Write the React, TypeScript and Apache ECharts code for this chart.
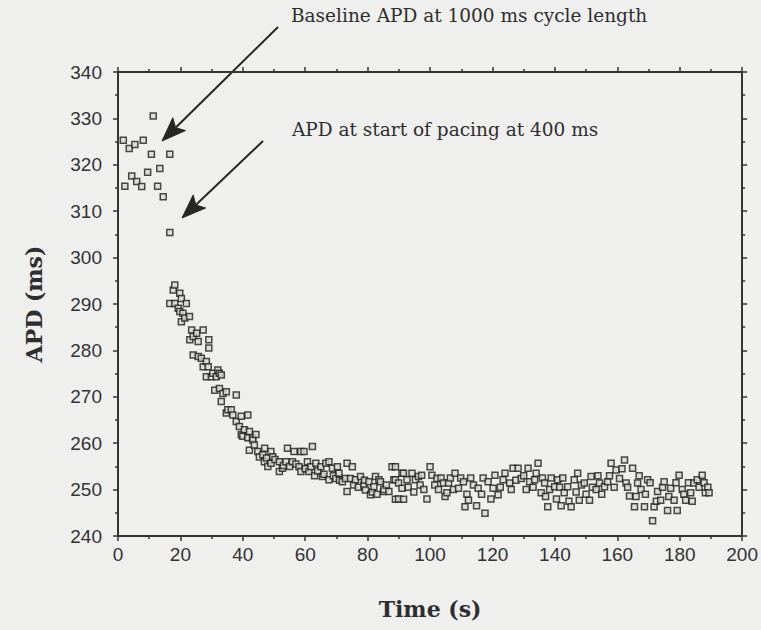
import React, { useEffect, useRef } from "react";
import * as echarts from "echarts";

// Axis ranges / tick steps
const X_MIN = 0, X_MAX = 200, X_STEP = 20;
const Y_MIN = 240, Y_MAX = 340, Y_STEP = 10;

const xAxisName = "Time (s)";
const yAxisName = "APD (ms)";
const note1 = "Baseline APD at 1000 ms cycle length";
const note2 = "APD at start of pacing at 400 ms";

// Baseline beats at 1000 ms cycle length: [time s, APD ms]
const baselinePoints: number[][] = [
  [1.7, 325.3], [2.2, 315.4], [3.6, 323.5], [4.4, 317.6], [5.4, 324.4], [6.0, 316.4],
  [7.6, 315.3], [8.1, 325.3], [9.5, 318.4], [10.7, 322.3], [11.3, 330.5], [12.7, 315.4],
  [13.4, 319.2], [14.5, 313.1], [16.6, 322.3], [16.6, 305.4],
];

// Pacing at 400 ms: early decay
const decayPoints: number[][] = [
  [16.6, 290.1], [17.7, 293.0], [18.2, 294.1], [18.2, 290.1], [19.3, 289.1], [19.8, 292.3],
  [19.8, 288.4], [20.3, 291.2], [20.3, 286.2], [20.8, 288.0], [21.4, 287.0], [21.9, 290.1],
  [22.9, 287.3], [23.0, 282.3], [23.6, 284.4], [24.1, 283.0], [24.1, 279.0], [25.2, 283.7],
  [25.7, 281.9], [25.7, 278.7], [26.7, 278.3], [27.3, 284.4], [27.3, 276.5], [28.3, 277.6],
  [28.3, 274.3], [28.9, 276.5], [29.1, 282.3], [29.1, 280.5], [29.9, 274.3], [30.4, 275.1],
  [31.0, 271.4], [31.5, 274.3], [32.0, 275.8], [32.5, 275.1], [32.5, 271.8], [33.1, 274.7],
  [33.1, 269.0], [33.6, 270.7], [34.7, 271.1], [34.7, 266.5], [35.2, 267.2], [36.3, 267.2],
  [36.8, 266.1], [37.9, 270.4], [37.9, 264.7], [38.9, 263.6], [39.5, 265.8], [39.5, 261.8],
  [40.0, 261.5], [40.5, 262.9], [41.6, 266.1], [41.6, 261.2], [42.1, 262.5], [42.1, 258.5],
  [43.1, 261.2], [43.2, 260.7], [43.7, 259.6], [44.2, 261.9], [44.8, 258.2], [45.3, 257.0],
  [46.4, 257.5], [46.9, 256.0], [47.0, 258.9], [47.6, 256.8], [48.0, 255.0], [49.0, 258.2],
  [49.0, 255.7], [49.6, 257.1], [50.3, 256.5], [51.7, 256.0], [51.7, 253.9], [52.7, 254.6],
  [53.0, 255.2], [53.8, 256.0], [54.3, 258.9], [55.0, 255.0], [55.9, 256.0], [56.4, 258.2],
  [57.0, 255.5], [58.0, 254.9], [58.6, 258.2], [58.6, 253.9], [59.6, 258.2], [60.0, 254.5],
  [60.7, 256.0], [61.2, 253.9], [61.8, 254.9], [62.3, 259.3], [63.0, 253.0], [63.4, 255.7],
  [64.0, 254.0], [65.0, 254.9], [65.5, 252.8], [66.0, 253.3], [66.6, 255.7], [67.6, 256.0],
  [67.6, 252.1], [68.7, 254.6], [69.0, 253.0], [69.8, 252.4], [70.3, 254.9], [70.8, 253.5],
  [71.0, 252.0], [71.9, 251.7], [72.9, 252.4], [73.4, 255.7], [73.4, 249.6], [74.5, 252.4],
  [75.1, 254.9], [75.5, 251.0], [76.1, 252.1], [77.0, 250.5], [77.7, 252.8], [78.8, 251.0],
  [79.0, 252.0], [79.3, 249.9], [80.4, 251.7], [80.9, 248.9], [81.5, 249.5], [82.0, 250.6],
  [82.5, 252.8], [83.0, 249.0], [83.6, 252.1], [84.1, 251.7], [85.1, 249.6], [85.2, 250.0],
  [86.0, 251.0], [86.8, 249.6],
];

// Pacing at 400 ms: steady state
const plateauPoints: number[][] = [
  [87.8, 254.9], [88.4, 252.1], [88.9, 254.9], [88.9, 247.9], [88.9, 252.1], [89.9, 251.4],
  [89.9, 248.0], [91.0, 250.3], [91.0, 253.5], [91.5, 253.5], [91.5, 247.9], [92.6, 252.1],
  [93.0, 250.5], [94.2, 253.5], [94.8, 249.5], [95.3, 252.1], [96.3, 252.8], [96.8, 251.0],
  [97.3, 253.1], [98.0, 250.0], [99.0, 248.0], [100.0, 254.9], [100.6, 253.1], [101.5, 251.0],
  [102.2, 252.4], [102.7, 250.0], [103.5, 252.5], [104.3, 251.4], [104.8, 248.5], [105.4, 249.3],
  [105.9, 251.4], [106.5, 252.5], [107.5, 250.0], [108.0, 253.5], [109.1, 250.3], [109.8, 252.5],
  [110.7, 251.7], [111.2, 246.3], [111.8, 249.0], [112.3, 247.7], [113.0, 252.5], [113.9, 251.0],
  [114.9, 246.5], [115.4, 250.3], [116.5, 249.0], [117.0, 252.5], [117.6, 244.9], [118.6, 251.7],
  [119.5, 248.0], [120.2, 250.3], [120.8, 253.1], [121.8, 248.9], [122.5, 250.5], [123.4, 252.1],
  [124.0, 253.5], [125.5, 251.4], [126.0, 250.0], [126.6, 254.6], [127.5, 252.0], [128.2, 254.6],
  [129.2, 252.4], [130.0, 253.0], [130.8, 250.0], [131.4, 254.6], [131.9, 251.7], [133.0, 250.5],
  [133.5, 252.1], [134.0, 253.5], [134.6, 255.7], [135.6, 249.3], [136.0, 252.5], [136.7, 251.4],
  [137.0, 248.5], [137.7, 246.3], [138.3, 250.0], [138.8, 252.5], [139.9, 250.6], [140.5, 248.0],
  [140.9, 252.1], [141.5, 250.5], [142.0, 246.5], [142.5, 252.5], [143.0, 249.3], [144.1, 250.6],
  [144.5, 247.5], [145.2, 246.3], [146.2, 252.1], [146.8, 249.5], [147.3, 253.5], [147.8, 247.7],
  [148.5, 251.0], [149.4, 251.4], [150.0, 249.0], [151.1, 247.7], [151.6, 252.8], [152.0, 250.5],
  [153.2, 250.0], [153.8, 253.0], [154.3, 251.4], [155.0, 249.0], [155.9, 250.6], [156.9, 251.7],
  [157.5, 253.0], [158.0, 255.7], [159.0, 250.5], [159.6, 254.2], [160.7, 252.4], [161.5, 254.5],
  [162.3, 256.4], [162.8, 251.4], [163.3, 250.5], [163.9, 248.6], [164.9, 254.6], [165.5, 246.3],
  [166.0, 248.5], [166.5, 251.4], [167.0, 253.0], [167.6, 250.0], [168.7, 246.3], [169.0, 249.0],
  [169.7, 252.1], [170.5, 251.5], [171.3, 243.3], [171.8, 246.3], [172.5, 247.5], [172.9, 249.6],
  [173.9, 247.7], [174.5, 250.5], [175.0, 251.7], [176.1, 245.5], [176.5, 248.5], [177.1, 250.3],
  [178.2, 247.7], [178.8, 251.5], [179.2, 245.5], [179.8, 253.1], [180.8, 250.0], [181.3, 249.0],
  [181.9, 247.7], [182.8, 251.5], [183.5, 249.3], [184.0, 247.5], [184.5, 251.4], [185.6, 252.1],
  [186.2, 250.5], [187.2, 253.1], [187.8, 251.5], [188.2, 249.3], [189.0, 250.5], [189.4, 249.3],
];

const INK = "#262626";
const BG = "#efefed";

function arrow(tail: number[], tip: number[]) {
  const dx = tip[0] - tail[0];
  const dy = tip[1] - tail[1];
  const len = Math.hypot(dx, dy);
  const ux = dx / len, uy = dy / len;
  const nx = -uy, ny = ux;
  const headLen = 24, halfW = 9;
  const bx = tip[0] - ux * headLen, by = tip[1] - uy * headLen;
  const notchX = tip[0] - ux * (headLen - 5), notchY = tip[1] - uy * (headLen - 5);
  return [
    {
      type: "line",
      shape: { x1: tail[0], y1: tail[1], x2: notchX, y2: notchY },
      style: { stroke: INK, lineWidth: 2 },
      silent: true,
    },
    {
      type: "polygon",
      shape: {
        points: [
          [tip[0], tip[1]],
          [bx + nx * halfW, by + ny * halfW],
          [notchX, notchY],
          [bx - nx * halfW, by - ny * halfW],
        ],
      },
      style: { fill: INK, stroke: INK, lineWidth: 1 },
      silent: true,
    },
  ];
}

const symbolStyle = {
  color: "#dadad8",
  borderColor: "#1e1e1e",
  borderWidth: 1.5,
};

export default function App() {
  const ref = useRef<HTMLDivElement>(null);

  useEffect(() => {
    if (!ref.current) return;
    const chart = echarts.init(ref.current, undefined, { renderer: "svg" });

    const axisLine = { show: true, onZero: false, lineStyle: { color: "#353535", width: 2 } };
    const axisTick = { show: true, inside: false, length: 5, lineStyle: { color: "#353535", width: 1.5 } };
    const minorTick = { show: true, splitNumber: 2, length: 3, lineStyle: { color: "#353535", width: 1.5 } };
    const labelStyle = {
      fontFamily: "Liberation Sans, Arial, sans-serif",
      fontSize: 19,
      color: "#333333",
    };
    const nameStyle = {
      fontFamily: "DejaVu Serif, serif",
      fontWeight: "bold" as const,
      fontSize: 22,
      color: "#2e2e2e",
    };

    chart.setOption({
      animation: false,
      backgroundColor: BG,
      grid: { left: 118, right: 16, top: 72, bottom: 94, containLabel: false },
      xAxis: [
        {
          type: "value",
          position: "bottom",
          min: X_MIN,
          max: X_MAX,
          interval: X_STEP,
          axisLine,
          axisTick,
          minorTick,
          splitLine: { show: false },
          axisLabel: { ...labelStyle, margin: 9 },
          name: xAxisName,
          nameLocation: "middle",
          nameGap: 62,
          nameTextStyle: nameStyle,
        },
        {
          type: "value",
          position: "top",
          min: X_MIN,
          max: X_MAX,
          interval: X_STEP,
          axisLine,
          axisTick,
          minorTick,
          splitLine: { show: false },
          axisLabel: { show: false },
        },
      ],
      yAxis: [
        {
          type: "value",
          position: "left",
          min: Y_MIN,
          max: Y_MAX,
          interval: Y_STEP,
          axisLine,
          axisTick,
          minorTick,
          splitLine: { show: false },
          axisLabel: { ...labelStyle, margin: 16 },
          name: yAxisName,
          nameLocation: "middle",
          nameGap: 73,
          nameTextStyle: nameStyle,
        },
        {
          type: "value",
          position: "right",
          min: Y_MIN,
          max: Y_MAX,
          interval: Y_STEP,
          axisLine,
          axisTick,
          minorTick,
          splitLine: { show: false },
          axisLabel: { show: false },
        },
      ],
      series: [
        {
          name: "Baseline",
          type: "scatter",
          data: baselinePoints,
          symbol: "rect",
          symbolSize: 6,
          itemStyle: symbolStyle,
          silent: true,
        },
        {
          name: "Decay",
          type: "scatter",
          data: decayPoints,
          symbol: "rect",
          symbolSize: 6,
          itemStyle: symbolStyle,
          silent: true,
        },
        {
          name: "Plateau",
          type: "scatter",
          data: plateauPoints,
          symbol: "rect",
          symbolSize: 6,
          itemStyle: symbolStyle,
          silent: true,
        },
      ],
      graphic: [
        {
          type: "text",
          left: 291,
          top: 6,
          style: {
            text: note1,
            fontFamily: "DejaVu Serif, serif",
            fontSize: 18.5,
            fill: "#2e2e2e",
          },
          silent: true,
        },
        {
          type: "text",
          left: 292,
          top: 120,
          style: {
            text: note2,
            fontFamily: "DejaVu Serif, serif",
            fontSize: 18.5,
            fill: "#2e2e2e",
          },
          silent: true,
        },
        ...arrow([278, 27], [162, 141]),
        ...arrow([263, 141], [182, 218]),
      ],
    });

    return () => chart.dispose();
  }, []);

  return (
    <div
      ref={ref}
      style={{ position: "absolute", left: 0, top: 0, width: 761, height: 630, background: BG }}
    />
  );
}
